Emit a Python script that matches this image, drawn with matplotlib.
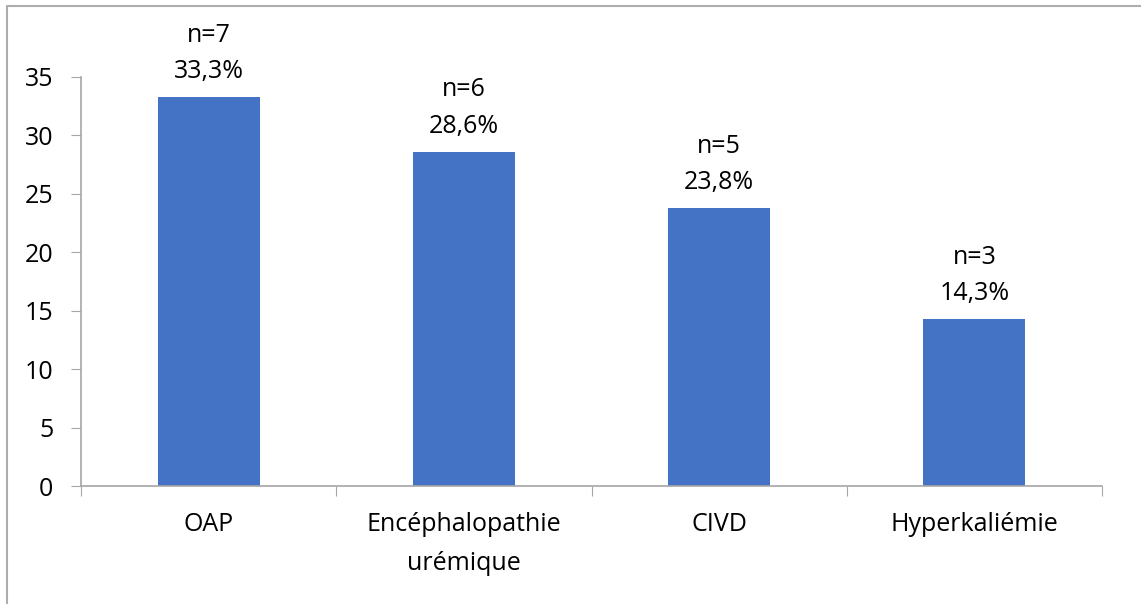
import matplotlib
matplotlib.use("Agg")
from matplotlib import pyplot as plt
from matplotlib.lines import Line2D

# Data
categories = ["OAP", "Encéphalopathie\nurémique", "CIVD", "Hyperkaliémie"]
percentages = [33.3, 28.6, 23.8, 14.3]
counts = [7, 6, 5, 3]
y_ticks = [0, 5, 10, 15, 20, 25, 30, 35]

plt.rcParams['font.family'] = ['Open Sans', 'DejaVu Sans']
FS = 18

W, H = 1141, 604
fig = plt.figure(figsize=(W / 100, H / 100), dpi=100)

# Chart area border (only left and top visible)
fig.lines.append(Line2D([7 / W, 7 / W, 1.0], [0.0, 1 - 6 / H, 1 - 6 / H],
                        transform=fig.transFigure, color='#ADADAD', linewidth=1.5))

ax = fig.add_axes([81 / W, (H - 486) / H, (1102 - 81) / W, (486 - 77) / H])

x = range(len(categories))
ax.bar(x, percentages, width=0.4, color='#4472C4')

# Labels above bars
for xi, p, n in zip(x, percentages, counts):
    ax.annotate(f"{str(p).replace('.', ',')}%", (xi, p), xytext=(0, 18.5),
                textcoords='offset points', ha='center', va='center', fontsize=FS)
    ax.annotate(f"n={n}", (xi, p), xytext=(0, 44.5),
                textcoords='offset points', ha='center', va='center', fontsize=FS)

ax.set_xlim(-0.5, len(categories) - 0.5)
ax.set_ylim(0, 35)
ax.set_yticks(y_ticks)
ax.set_yticklabels([str(t) for t in y_ticks], fontsize=FS)

# Category tick marks between groups, labels at centres
ax.set_xticks([i - 0.5 for i in range(len(categories) + 1)])
ax.set_xticklabels([])
ax.set_xticks(list(x), minor=True)
ax.set_xticklabels(categories, minor=True, fontsize=FS, linespacing=1.72, va='top')
ax.tick_params(axis='x', which='minor', length=0, pad=19)
ax.tick_params(axis='x', which='major', length=7, color='#A6A6A6', direction='out')
ax.tick_params(axis='y', length=7, color='#A6A6A6', direction='out', pad=13)

for side in ['top', 'right']:
    ax.spines[side].set_visible(False)
for side in ['left', 'bottom']:
    ax.spines[side].set_color('#A6A6A6')
    ax.spines[side].set_linewidth(1.2)

fig.savefig("out.png", dpi=100)
